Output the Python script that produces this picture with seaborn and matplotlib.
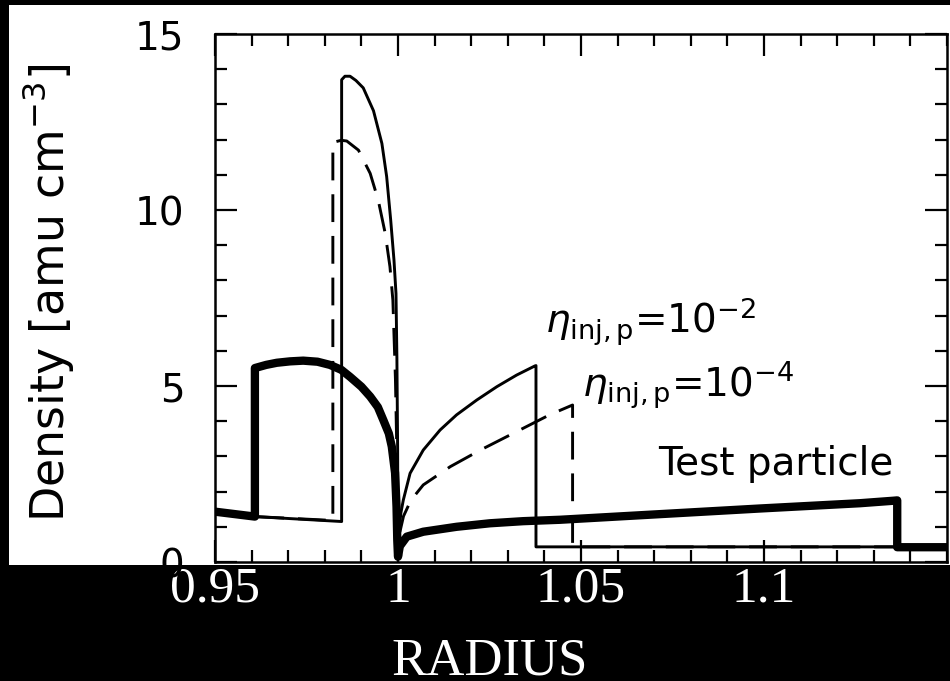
import matplotlib
matplotlib.use("Agg")
import matplotlib.pyplot as plt
from matplotlib.patches import Rectangle
from matplotlib.ticker import MultipleLocator, FixedLocator
import seaborn as sns

# Density profiles across the remnant (radius normalised to the contact discontinuity)
# Test-particle run (thick line)
r_test = [0.950, 0.9609, 0.9609, 0.9640, 0.9669, 0.9705, 0.9741, 0.9780, 0.9814,
          0.9845, 0.9869, 0.9900, 0.9924, 0.9945, 0.9960, 0.9975, 0.9983, 0.9992,
          0.9996, 0.9998, 1.0000, 1.0005, 1.0024, 1.0069, 1.0160, 1.0251, 1.0342,
          1.0443, 1.0716, 1.0989, 1.1262, 1.1353, 1.1364, 1.1364, 1.1500]
d_test = [1.43, 1.29, 5.51, 5.60, 5.66, 5.70, 5.72, 5.69, 5.60,
          5.46, 5.26, 4.98, 4.70, 4.40, 4.03, 3.65, 3.28, 2.53,
          1.57, 0.63, 0.15, 0.45, 0.72, 0.86, 1.00, 1.10, 1.16,
          1.20, 1.36, 1.52, 1.67, 1.74, 1.75, 0.42, 0.42]

# eta_inj,p = 1e-2 (thin solid line)
r_em2 = [0.950, 0.9609, 0.9846, 0.9846, 0.9855, 0.9869, 0.9885, 0.9905, 0.9933,
         0.9956, 0.9969, 0.9980, 0.9989, 0.99945, 0.9997, 0.9999, 1.0000, 1.0003,
         1.0008, 1.00145, 1.0033, 1.0069, 1.0115, 1.0160, 1.0215, 1.0270, 1.0324,
         1.0374, 1.0377, 1.0377, 1.1500]
d_em2 = [1.43, 1.29, 1.15, 13.70, 13.80, 13.80, 13.68, 13.47, 12.82,
         11.89, 10.95, 9.72, 8.58, 7.63, 5.80, 3.20, 0.25, 0.90,
         1.40, 1.76, 2.52, 3.18, 3.75, 4.18, 4.60, 4.98, 5.31,
         5.57, 5.58, 0.43, 0.43]

# eta_inj,p = 1e-4 (dashed line)
r_em4 = [0.950, 0.9609, 0.9822, 0.9822, 0.9845, 0.9860, 0.9892, 0.9924, 0.9946,
         0.9965, 0.9978, 0.9986, 0.9993, 0.9998, 1.0000, 1.0004, 1.0015, 1.0035,
         1.0069, 1.0143, 1.0225, 1.0312, 1.0414, 1.0477, 1.0477, 1.1500]
d_em4 = [1.43, 1.29, 1.18, 11.92, 11.98, 11.96, 11.70, 11.04, 10.28,
         9.34, 8.39, 7.44, 5.20, 2.50, 0.20, 0.80, 1.30, 1.75,
         2.19, 2.71, 3.18, 3.64, 4.18, 4.46, 0.43, 0.43]

x_ticks = [0.95, 1.0, 1.05, 1.1]
x_tick_labels = ["0.95", "1", "1.05", "1.1"]
y_ticks = [0, 5, 10, 15]

sns.set_style("ticks", {"axes.edgecolor": "black", "xtick.color": "black",
                        "ytick.color": "black", "text.color": "black",
                        "axes.labelcolor": "black"})
plt.rcParams["font.family"] = ["DejaVu Sans"]
plt.rcParams["mathtext.fontset"] = "dejavusans"
plt.rcParams["lines.scale_dashes"] = False
plt.rcParams["text.color"] = "black"

W, H = 950, 681
fig = plt.figure(figsize=(W / 100, H / 100), dpi=100, facecolor="black")
fig.add_artist(Rectangle((9 / W, (H - 565) / H), (W - 9) / W, (565 - 5) / H,
                         transform=fig.transFigure, facecolor="white",
                         edgecolor="none", zorder=-10))

ax = fig.add_axes([215 / W, (H - 562) / H, (947 - 215) / W, (562 - 34) / H])
ax.set_facecolor("white")

sns.lineplot(x=r_em2, y=d_em2, sort=False, estimator=None, color="black",
             lw=2.1, ax=ax)
sns.lineplot(x=r_em4, y=d_em4, sort=False, estimator=None, color="black",
             lw=2.1, linestyle=(0, (20, 10)), ax=ax)
sns.lineplot(x=r_test, y=d_test, sort=False, estimator=None, color="black",
             lw=6.0, solid_capstyle="round", ax=ax)

ax.set_xlim(0.95, 1.15)
ax.set_ylim(0, 15)
ax.xaxis.set_major_locator(FixedLocator(x_ticks))
ax.set_xticklabels(x_tick_labels, fontfamily="Liberation Serif")
ax.xaxis.set_minor_locator(MultipleLocator(0.01))
ax.yaxis.set_major_locator(FixedLocator(y_ticks))
ax.yaxis.set_minor_locator(MultipleLocator(1))

for s in ax.spines.values():
    s.set_linewidth(1.8)
    s.set_color("black")

ax.tick_params(which="both", direction="in", top=True, right=True, width=1.6)
ax.tick_params(which="major", length=15.5)
ax.tick_params(which="minor", length=8.5)
ax.tick_params(axis="x", which="major", labelcolor="white", labelsize=37, pad=3)
ax.tick_params(axis="y", which="major", labelcolor="black", labelsize=28, pad=22)

ax.set_ylabel("Density [amu cm$^{-3}$]", fontsize=33, color="black")
ax.yaxis.set_label_coords(-0.19, 0.51)

ax.set_xlabel("RADIUS", fontsize=38, fontfamily="Liberation Serif", color="white")
ax.xaxis.set_label_coords(0.3757, -0.213)
ax.xaxis.label.set_va("baseline")

ax.text(1.0402, 6.5, r"$\eta_{\mathrm{inj,p}}$=10$^{-2}$", fontsize=28,
        color="black", ha="left", va="baseline")
ax.text(1.0503, 4.69, r"$\eta_{\mathrm{inj,p}}$=10$^{-4}$", fontsize=28,
        color="black", ha="left", va="baseline")
ax.text(1.0710, 2.47, "Test particle", fontsize=28, color="black",
        ha="left", va="baseline")

fig.savefig("out.png", dpi=100, facecolor=fig.get_facecolor())
